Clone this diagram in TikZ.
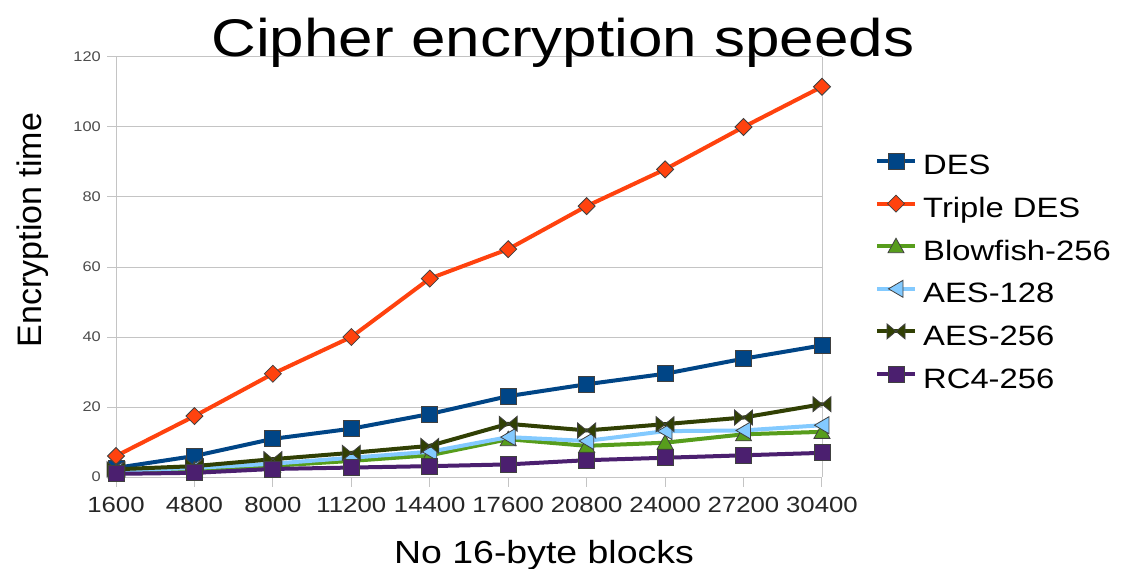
\documentclass[tikz,border=0pt]{standalone}
\usepackage{fontspec}
\setmainfont{Liberation Sans}[FakeStretch=1.17]
\newfontfamily\ytfont{Liberation Sans}
\definecolor{cdes}{HTML}{004586}
\definecolor{ctdes}{HTML}{FF420E}
\definecolor{cblow}{HTML}{579D1C}
\definecolor{caesa}{HTML}{83CAFF}
\definecolor{caesb}{HTML}{314004}
\definecolor{crc}{HTML}{4B1F6F}
\definecolor{gridc}{HTML}{C4C4C4}
\newcommand\plotser[3]{%
  \foreach \v [count=\i from 0] in {#3} {\coordinate (#2p\i) at ({116+\i*78.44},{477-\v*3.5});}
  \draw[serline,draw=#1] (#2p0) \foreach \i in {1,...,9} { -- (#2p\i) };
  \foreach \i in {0,...,9} { \pic[mk,fill=#1] at (#2p\i) {#2}; }
}
\newcommand\legent[4]{%
  \coordinate (#2la) at (877,#4);
  \coordinate (#2lb) at (915,#4);
  \coordinate (#2lm) at (896,#4);
  \draw[serline,line cap=butt,draw=#1] (#2la) -- (#2lb);
  \pic[mk,fill=#1] at (#2lm) {#2};
  \node[legtext] (#2lt) at (923,#4+14) {#3};
}
\begin{document}
\begin{tikzpicture}[x=1pt,y=-1pt,
  serline/.style={line width=4pt,line join=round,line cap=round},
  mk/.style={draw=black!75,line width=0.8pt},
  msq/.pic={\path[pic actions] (-8,-8) rectangle (8,8);},
  mrc/.pic={\path[pic actions] (-8,-8) rectangle (8,8);},
  mdia/.pic={\path[pic actions] (0,-8.5) -- (8.5,0) -- (0,8.5) -- (-8.5,0) -- cycle;},
  mtri/.pic={\path[pic actions] (-8,6.5) -- (8,6.5) -- (0,-8) -- cycle;},
  mltri/.pic={\path[pic actions] (-7.5,0) -- (7,-8.5) -- (7,8.5) -- cycle;},
  mbow/.pic={\path[pic actions] (-9,-7.5) -- (0,0) -- (-9,7.5) -- cycle (9,-7.5) -- (0,0) -- (9,7.5) -- cycle;},
  ytick/.style={anchor=east,inner sep=0pt,text=black!70,font=\fontsize{14}{16}\selectfont},
  xtick/.style={anchor=base,inner sep=0pt,text=black!85,font=\fontsize{22}{24}\selectfont},
  legtext/.style={anchor=base west,inner sep=0pt,font=\fontsize{28}{30}\selectfont},
  gridl/.style={draw=gridc,line width=1pt}
]
\useasboundingbox[fill=white] (0,0) rectangle (1123,569);
% grid and axes
\foreach \k in {0,...,6} {
  \coordinate (gl\k) at (107,{477-\k*70});
  \coordinate (gr\k) at (822,{477-\k*70});
  \draw[gridl] (gl\k) -- (gr\k);
  \pgfmathtruncatemacro\lab{\k*20}
  \node[ytick] (yt\k) at (101,{477-\k*70}) {\lab};
}
\coordinate (axtop) at (116,57);
\coordinate (axbot) at (116,477);
\coordinate (rtop) at (822,57);
\coordinate (rbot) at (822,477);
\draw[gridl] (axtop) -- (axbot);
\draw[gridl] (rtop) -- (rbot);
\foreach \lab [count=\i from 0] in {1600,4800,8000,11200,14400,17600,20800,24000,27200,30400} {
  \coordinate (xa\i) at ({116+\i*78.44},477);
  \coordinate (xb\i) at ({116+\i*78.44},487);
  \draw[gridl] (xa\i) -- (xb\i);
  \node[xtick] (xt\i) at ({116+\i*78.44},512) {\lab};
}
% series
\plotser{cdes}{msq}{2.6,6,10.9,13.8,18,23.1,26.5,29.5,33.8,37.6}
\plotser{ctdes}{mdia}{6,17.4,29.5,40,56.7,65.1,77.4,87.9,100,111.5}
\plotser{cblow}{mtri}{1.6,2.2,3.2,4.6,6.2,10.8,8.9,9.8,12.2,12.9}
\plotser{caesa}{mltri}{1.8,2.6,3.8,5.5,7.2,11.4,10.3,13.1,13.3,14.8}
\plotser{caesb}{mbow}{2.2,3.1,5.1,6.9,8.9,15.2,13.3,15.1,17,20.8}
\plotser{crc}{mrc}{0.9,1.2,2.3,2.7,3.1,3.6,4.8,5.5,6.2,6.9}
% legend
\legent{cdes}{msq}{DES}{161}
\legent{ctdes}{mdia}{Triple DES}{203.6}
\legent{cblow}{mtri}{Blowfish-256}{246.2}
\legent{caesa}{mltri}{AES-128}{288.8}
\legent{caesb}{mbow}{AES-256}{331.4}
\legent{crc}{mrc}{RC4-256}{374}
% titles
\node[anchor=base,inner sep=0pt,font=\fontsize{53}{60}\selectfont] (title) at (563,57) {Cipher encryption speeds};
\node[anchor=base,inner sep=0pt,font=\fontsize{32}{36}\selectfont] (xtitle) at (544,563) {No 16-byte blocks};
\node[anchor=base,inner sep=0pt,rotate=90,font=\ytfont\fontsize{34}{40}\selectfont] (ytitle) at (41,230) {Encryption time};
\end{tikzpicture}
\end{document}
